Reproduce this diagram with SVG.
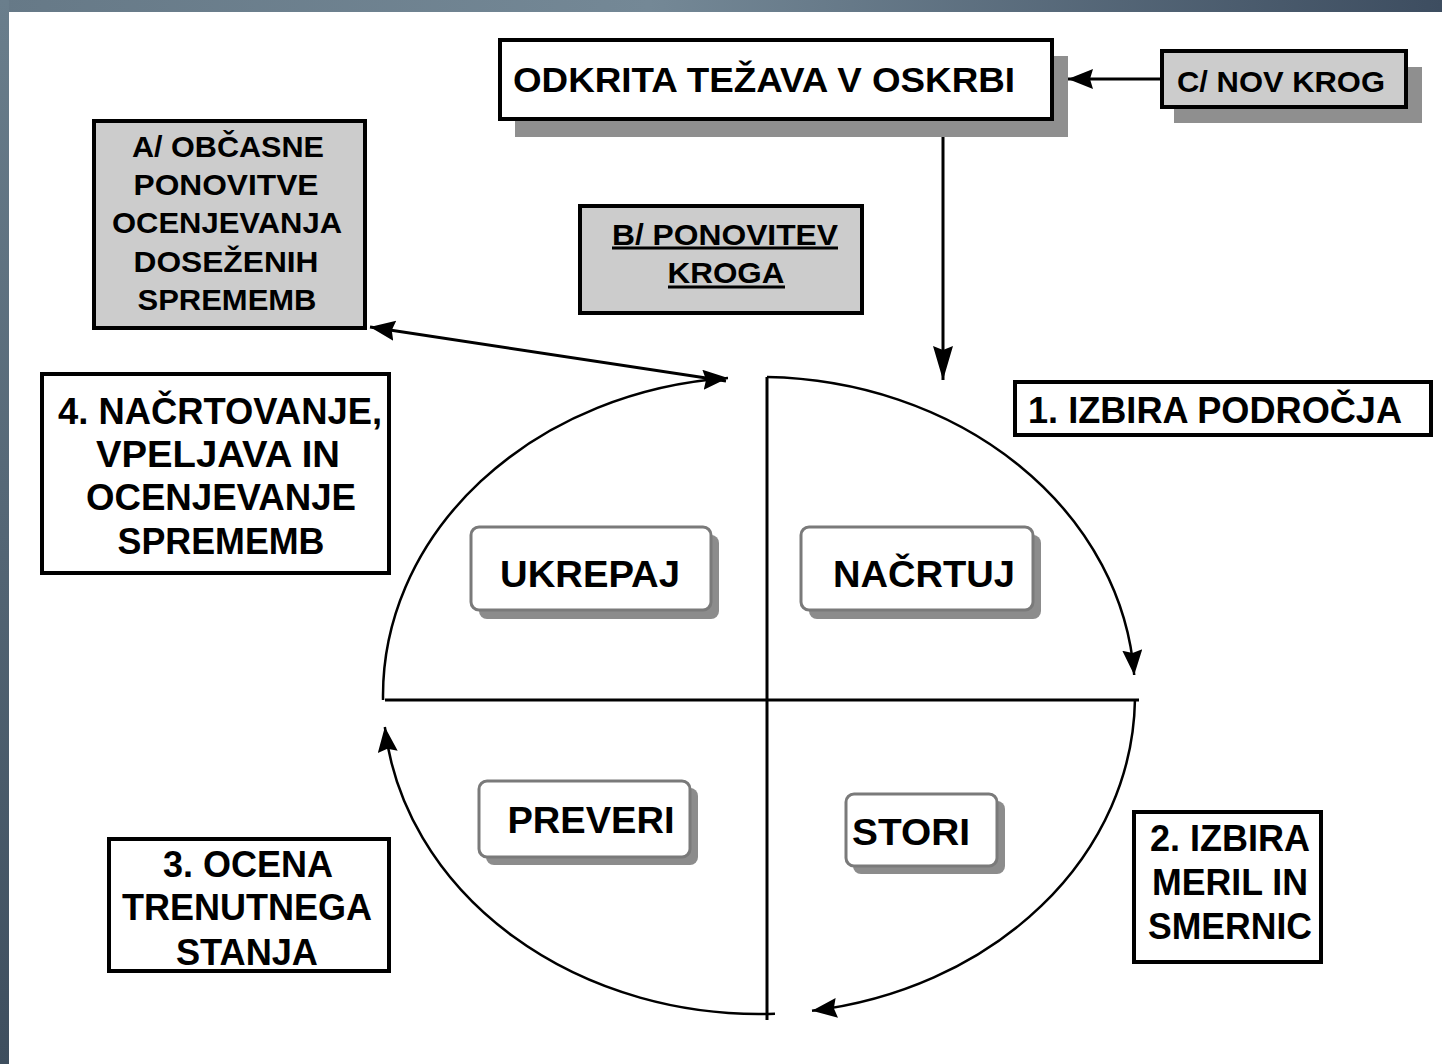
<svg xmlns="http://www.w3.org/2000/svg" width="1442" height="1064" viewBox="0 0 1442 1064">
  <defs>
    <linearGradient id="topStrip" x1="0" y1="0" x2="1" y2="0">
      <stop offset="0" stop-color="#667987"/>
      <stop offset="0.45" stop-color="#748896"/>
      <stop offset="1" stop-color="#3d4d60"/>
    </linearGradient>
    <linearGradient id="leftStrip" x1="0" y1="0" x2="0" y2="1">
      <stop offset="0" stop-color="#6a7e8c"/>
      <stop offset="1" stop-color="#3e4e5e"/>
    </linearGradient>
    <marker id="arr" markerUnits="userSpaceOnUse" markerWidth="30" markerHeight="26" refX="25" refY="10" orient="auto-start-reverse" viewBox="0 0 30 26">
      <path d="M0,0 L25,10 L0,20 L3,10 Z" fill="#000"/>
    </marker>
    <marker id="arrV" markerUnits="userSpaceOnUse" markerWidth="40" markerHeight="26" refX="34" refY="10" orient="auto" viewBox="0 0 40 26">
      <path d="M0,0 L34,10 L0,20 L4,10 Z" fill="#000"/>
    </marker>
    <style>
      .t { font-family: "Liberation Sans", Arial, sans-serif; font-weight: bold; fill: #000; }
      .box { fill: #fff; stroke: #000; stroke-width: 4; }
      .gbox { fill: #cccccc; stroke: #000; stroke-width: 4; }
      .shadow { fill: #8f8f8f; }
      .rshadow { fill: #8c8c8c; }
      .rbox { fill: #fff; stroke: #7a7a7a; stroke-width: 3; }
      .ln { fill: none; stroke: #000; stroke-width: 3; }
      .arc { fill: none; stroke: #000; stroke-width: 2.5; }
    </style>
  </defs>

  <rect x="0" y="0" width="1442" height="1064" fill="#fff"/>
  <rect x="0" y="0" width="1442" height="12" fill="url(#topStrip)"/>
  <rect x="0" y="0" width="9" height="1064" fill="url(#leftStrip)"/>

  <g id="connectors">
    <path class="ln" d="M767,377 L767,1020"/>
    <path class="ln" d="M385,700 L1139,700"/>
    <path class="arc" d="M767,377.07 A376,318.5 0 0 1 1134.2,675" marker-end="url(#arr)"/>
    <path class="arc" d="M1134.96,700 A376,318.5 0 0 1 812,1010.8" marker-end="url(#arr)"/>
    <path class="arc" d="M775,1013.7 A376,318.5 0 0 1 384.84,727" marker-end="url(#arr)"/>
    <path class="arc" d="M383.04,700 A376,318.5 0 0 1 728,378.1" marker-end="url(#arr)"/>
    <path class="ln" d="M370,327 L726,381" marker-start="url(#arr)"/>
    <path class="ln" d="M943,120 L943,380" marker-end="url(#arrV)"/>
    <path class="ln" d="M1162,79 L1068,79" marker-end="url(#arr)"/>
  </g>

  <g id="node-odkrita">
    <rect class="shadow" x="515" y="56" width="553" height="81"/>
    <rect class="box" x="500" y="40" width="552" height="79" stroke-width="3"/>
    <text class="t" x="513" y="92" font-size="35" textLength="502" lengthAdjust="spacingAndGlyphs">ODKRITA TEŽAVA V OSKRBI</text>
  </g>

  <g id="node-nov-krog">
    <rect class="shadow" x="1174" y="67" width="248" height="56"/>
    <rect class="gbox" x="1162" y="51" width="244" height="56" stroke-width="3.5"/>
    <text class="t" x="1177" y="92" font-size="30" fill="#222" textLength="208" lengthAdjust="spacingAndGlyphs">C/ NOV KROG</text>
  </g>

  <g id="node-a">
    <rect class="gbox" x="94" y="121" width="271" height="207"/>
    <text class="t" x="228" y="157" font-size="30" text-anchor="middle" textLength="192" lengthAdjust="spacingAndGlyphs">A/ OBČASNE</text>
    <text class="t" x="226" y="195" font-size="30" text-anchor="middle" textLength="185" lengthAdjust="spacingAndGlyphs">PONOVITVE</text>
    <text class="t" x="227" y="233" font-size="30" text-anchor="middle" textLength="230" lengthAdjust="spacingAndGlyphs">OCENJEVANJA</text>
    <text class="t" x="226" y="272" font-size="30" text-anchor="middle" textLength="185" lengthAdjust="spacingAndGlyphs">DOSEŽENIH</text>
    <text class="t" x="227" y="310" font-size="30" text-anchor="middle" textLength="179" lengthAdjust="spacingAndGlyphs">SPREMEMB</text>
  </g>

  <g id="node-b">
    <rect class="gbox" x="580" y="206" width="282" height="107"/>
    <text class="t" x="725" y="245" font-size="30" text-anchor="middle" textLength="226" lengthAdjust="spacingAndGlyphs">B/ PONOVITEV</text>
    <line x1="612" y1="248" x2="838" y2="248" stroke="#000" stroke-width="3"/>
    <text class="t" x="726" y="283" font-size="30" text-anchor="middle" textLength="117" lengthAdjust="spacingAndGlyphs">KROGA</text>
    <line x1="668" y1="287" x2="785" y2="287" stroke="#000" stroke-width="3"/>
  </g>

  <g id="node-4">
    <rect class="box" x="42" y="374" width="347" height="199" stroke-width="3.5"/>
    <text class="t" x="220" y="424" font-size="36" text-anchor="middle" textLength="324" lengthAdjust="spacingAndGlyphs">4. NAČRTOVANJE,</text>
    <text class="t" x="218" y="467" font-size="36" text-anchor="middle" textLength="244" lengthAdjust="spacingAndGlyphs">VPELJAVA IN</text>
    <text class="t" x="221" y="510" font-size="36" text-anchor="middle" textLength="270" lengthAdjust="spacingAndGlyphs">OCENJEVANJE</text>
    <text class="t" x="221" y="554" font-size="36" text-anchor="middle" textLength="207" lengthAdjust="spacingAndGlyphs">SPREMEMB</text>
  </g>

  <g id="node-1">
    <rect class="box" x="1015" y="382" width="416" height="53" stroke-width="3.5"/>
    <text class="t" x="1028" y="423" font-size="36" textLength="374" lengthAdjust="spacingAndGlyphs">1. IZBIRA PODROČJA</text>
  </g>

  <g id="node-2">
    <rect class="box" x="1134" y="812" width="187" height="150" stroke-width="3.5"/>
    <text class="t" x="1230" y="851" font-size="36" text-anchor="middle" textLength="160" lengthAdjust="spacingAndGlyphs">2. IZBIRA</text>
    <text class="t" x="1230" y="895" font-size="36" text-anchor="middle" textLength="156" lengthAdjust="spacingAndGlyphs">MERIL IN</text>
    <text class="t" x="1230" y="939" font-size="36" text-anchor="middle" textLength="164" lengthAdjust="spacingAndGlyphs">SMERNIC</text>
  </g>

  <g id="node-3">
    <rect class="box" x="109" y="839" width="280" height="132" stroke-width="3.5"/>
    <text class="t" x="248" y="877" font-size="36" text-anchor="middle" textLength="170" lengthAdjust="spacingAndGlyphs">3. OCENA</text>
    <text class="t" x="247" y="920" font-size="36" text-anchor="middle" textLength="250" lengthAdjust="spacingAndGlyphs">TRENUTNEGA</text>
    <text class="t" x="247" y="965" font-size="36" text-anchor="middle" textLength="142" lengthAdjust="spacingAndGlyphs">STANJA</text>
  </g>

  <g id="node-ukrepaj">
    <rect class="rshadow" x="479" y="535" width="240" height="84" rx="8"/>
    <rect class="rbox" x="471" y="527" width="240" height="83" rx="8"/>
    <text class="t" x="590" y="587" font-size="37" text-anchor="middle" textLength="180" lengthAdjust="spacingAndGlyphs">UKREPAJ</text>
  </g>

  <g id="node-nacrtuj">
    <rect class="rshadow" x="809" y="535" width="232" height="84" rx="8"/>
    <rect class="rbox" x="801" y="527" width="232" height="83" rx="8"/>
    <text class="t" x="924" y="587" font-size="37" text-anchor="middle" textLength="182" lengthAdjust="spacingAndGlyphs">NAČRTUJ</text>
  </g>

  <g id="node-preveri">
    <rect class="rshadow" x="486" y="788" width="212" height="77" rx="8"/>
    <rect class="rbox" x="479" y="781" width="211" height="76" rx="8"/>
    <text class="t" x="591" y="833" font-size="37" text-anchor="middle" textLength="167" lengthAdjust="spacingAndGlyphs">PREVERI</text>
  </g>

  <g id="node-stori">
    <rect class="rshadow" x="853" y="801" width="152" height="73" rx="8"/>
    <rect class="rbox" x="846" y="794" width="151" height="72" rx="8"/>
    <text class="t" x="911" y="845" font-size="37" text-anchor="middle" textLength="118" lengthAdjust="spacingAndGlyphs">STORI</text>
  </g>
</svg>
